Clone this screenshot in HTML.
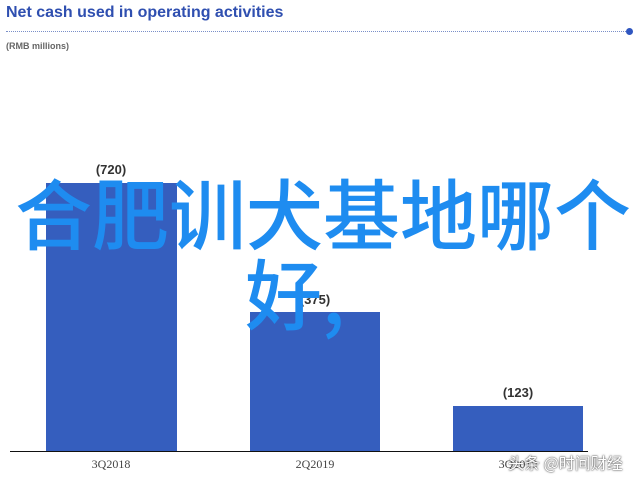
<!DOCTYPE html>
<html><head><meta charset="utf-8"><style>
body{margin:0;width:640px;height:480px;background:#fff;position:relative;overflow:hidden;font-family:"Liberation Sans",sans-serif}
.a{position:absolute}
.bar{position:absolute;background:#355ebe}
.lab{position:absolute;font-weight:bold;font-size:13px;color:#333;width:130px;text-align:center}
.x{position:absolute;font-family:"Liberation Serif",serif;font-size:12px;color:#444;width:130px;text-align:center;top:457px}
.big{position:absolute;left:0;width:640px;text-align:center;color:#1e8cf0;font-family:"Noto Sans CJK SC",sans-serif;font-size:77px;line-height:80px;font-weight:500}
</style></head><body>
<div class="a" style="left:6px;top:4px;font-size:16px;font-weight:bold;color:#2f4fb0">Net cash used in operating activities</div>
<div class="a" style="left:6px;top:31px;width:620px;border-top:1px dotted #7a8fc8"></div>
<div class="a" style="left:626px;top:28px;width:7px;height:7px;border-radius:50%;background:#2f56c0"></div>
<div class="a" style="left:6px;top:41px;font-size:9px;font-weight:bold;color:#666">(RMB millions)</div>
<div class="bar" style="left:46px;top:183px;width:131px;height:269px"></div>
<div class="bar" style="left:250px;top:312px;width:130px;height:140px"></div>
<div class="bar" style="left:453px;top:406px;width:130px;height:46px"></div>
<div class="lab" style="left:46px;top:162px">(720)</div>
<div class="lab" style="left:250px;top:292px">(375)</div>
<div class="lab" style="left:453px;top:385px">(123)</div>
<div class="a" style="left:10px;top:451px;width:578px;height:1px;background:#111"></div>
<div class="x" style="left:46px">3Q2018</div>
<div class="x" style="left:250px">2Q2019</div>
<div class="x" style="left:453px">3Q2019</div>
<div class="big" style="top:172px;left:3px">合肥训犬基地哪个</div>
<div class="big" style="top:252px;left:-25px">好,</div>
<div class="a" style="left:508px;top:450px;font-family:'Noto Sans CJK SC',sans-serif;font-size:16px;color:#fff;text-shadow:0 0 2px #555,0 0 1px #333">头条 @时间财经</div>
</body></html>
